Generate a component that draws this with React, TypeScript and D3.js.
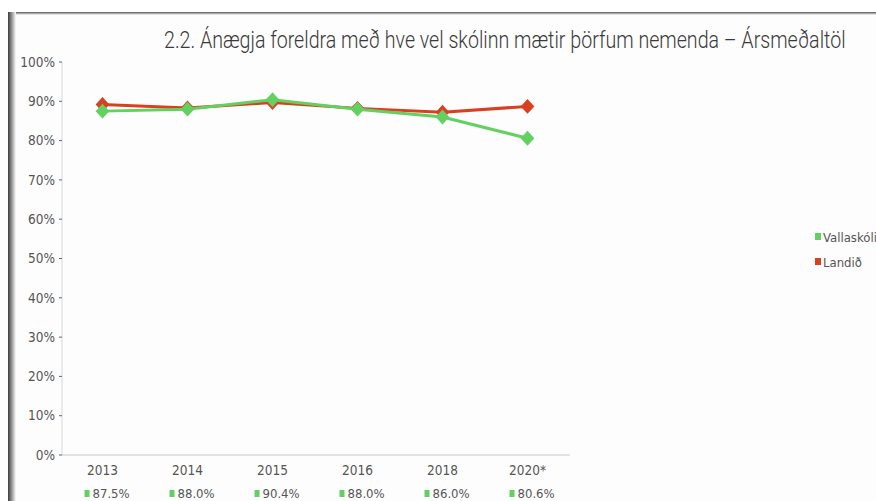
import React, { useRef, useLayoutEffect, useState } from "react";
import * as d3 from "d3";

const years = ["2013", "2014", "2015", "2016", "2018", "2020*"];
const vallaskoli = [87.5, 88.0, 90.4, 88.0, 86.0, 80.6];
const landid = [89.2, 88.3, 89.7, 88.2, 87.2, 88.7];
const yTicks = [0, 10, 20, 30, 40, 50, 60, 70, 80, 90, 100];

const title = "2.2. Ánægja foreldra með hve vel skólinn mætir þörfum nemenda – Ársmeðaltöl";
const font = "'DejaVu Sans Condensed', 'Liberation Sans Narrow', sans-serif";
const titleFont = "Roboto, 'DejaVu Sans Condensed', sans-serif";
const green = "#62d162";
const red = "#d9401f";

const App = () => {
    const width = 876;
    const height = 501;
    const titleRef = useRef<SVGTextElement>(null);
    const [titleScale, setTitleScale] = useState(1);

    // squeeze the title to the width it has in the original
    useLayoutEffect(() => {
        if (!titleRef.current) return;
        const w = titleRef.current.getComputedTextLength();
        if (w > 0) setTitleScale(682 / w);
    }, []);

    const x = d3.scaleBand().domain(years).range([60, 570]);
    const y = d3.scaleLinear().domain([0, 100]).range([455, 62]);
    const cx = (i: number) => x(years[i])! + x.bandwidth() / 2;

    const line = d3
        .line<number>()
        .x((_, i) => cx(i))
        .y((d) => y(d));

    // d3's diamond is narrow, stretch it to look like the square-ish markers
    const diamond = d3.symbol().type(d3.symbolDiamond).size(64)();

    const series = [
        { name: "Landið", values: landid, color: red },
        { name: "Vallaskóli", values: vallaskoli, color: green },
    ];

    return (
        <svg
            width={width}
            height={height}
            style={{ position: "absolute", left: 0, top: 0, display: "block" }}
        >
            <defs>
                <linearGradient id="leftShade" x1="0" x2="1" y1="0" y2="0">
                    <stop offset="0" stopColor="#3c3c3c" />
                    <stop offset="0.5" stopColor="#9a9a9a" />
                    <stop offset="1" stopColor="#fdfdfd" />
                </linearGradient>
                <linearGradient id="topShade" x1="0" x2="0" y1="0" y2="1">
                    <stop offset="0" stopColor="#555" />
                    <stop offset="1" stopColor="#fdfdfd" />
                </linearGradient>
            </defs>
            <rect width={width} height={height} fill="#fff" />
            <rect x={8} y={12} width={width - 8} height={height - 12} fill="#fdfdfd" />
            <rect x={8} y={12} width={width - 8} height={3} fill="url(#topShade)" />
            <rect x={8} y={12} width={8} height={height - 12} fill="url(#leftShade)" />

            <text
                ref={titleRef}
                transform={`translate(164,48) scale(${titleScale},1)`}
                fontFamily={titleFont}
                fontWeight={300}
                fontSize={24}
                fill="#3a3a3a"
            >
                {title}
            </text>

            {/* y axis */}
            <line x1={62} x2={62} y1={y(100)} y2={y(0)} stroke="#d8d8d8" />
            {yTicks.map((t) => (
                <g key={t} transform={`translate(0,${y(t)})`}>
                    <line x1={59} x2={62} stroke="#666" />
                    <text
                        x={55}
                        dy="0.35em"
                        textAnchor="end"
                        fontFamily={font}
                        fontSize={13.5}
                        fill="#555"
                    >
                        {t}%
                    </text>
                </g>
            ))}

            {/* x axis */}
            <line x1={62} x2={570} y1={y(0)} y2={y(0)} stroke="#c8c8c8" />
            {years.map((yr, i) => (
                <text
                    key={yr}
                    x={cx(i)}
                    y={475}
                    textAnchor="middle"
                    fontFamily={font}
                    fontSize={13.5}
                    fill="#555"
                >
                    {yr}
                </text>
            ))}

            {/* data labels under the axis */}
            {years.map((yr, i) => (
                <g key={"lbl" + yr}>
                    <rect x={cx(i) - 18} y={490} width={5} height={7} fill={green} />
                    <text x={cx(i) - 10} y={498} fontFamily={font} fontSize={13} fill="#555">
                        {vallaskoli[i].toFixed(1)}%
                    </text>
                </g>
            ))}

            {/* lines */}
            {series.map((s) => (
                <g key={s.name}>
                    <path d={line(s.values)!} fill="none" stroke={s.color} strokeWidth={3} />
                    {s.values.map((v, i) => (
                        <path
                            key={i}
                            d={diamond!}
                            transform={`translate(${cx(i)},${y(v)}) scale(1.6,1)`}
                            fill={s.color}
                        />
                    ))}
                </g>
            ))}

            {/* legend */}
            {[
                { name: "Vallaskóli", color: green, y: 237 },
                { name: "Landið", color: red, y: 262 },
            ].map((l) => (
                <g key={l.name}>
                    <rect x={815} y={l.y - 4} width={6} height={7} fill={l.color} />
                    <text x={823} y={l.y} dy="0.35em" fontFamily={font} fontSize={13} fill="#555">
                        {l.name}
                    </text>
                </g>
            ))}
        </svg>
    );
};

export default App;
